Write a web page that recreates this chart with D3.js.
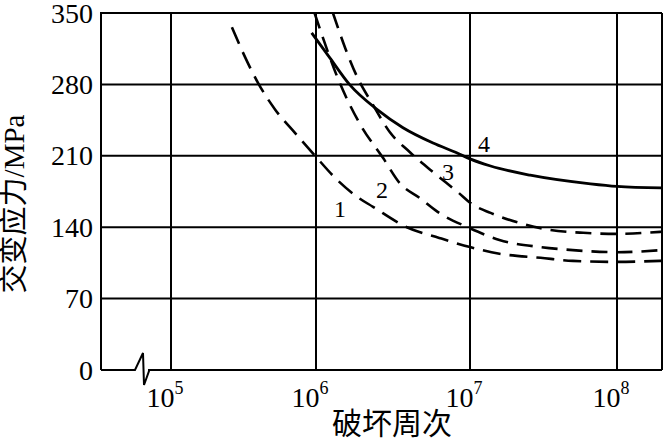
<!DOCTYPE html>
<html>
<head>
<meta charset="utf-8">
<script src="https://cdn.jsdelivr.net/npm/d3@7"></script>
<style>
  body { margin: 0; background: #fff; }
  svg { display: block; }
  text { font-family: "Liberation Serif", "Noto Sans CJK SC", serif; fill: #000; }
</style>
</head>
<body>
<svg id="chart" width="663" height="440"></svg>
<script>
// tick values
var xTicks = [1e5, 1e6, 1e7, 1e8];
var xExp = ["5", "6", "7", "8"];
var yTicks = [0, 70, 140, 210, 280, 350];

// curves: log10(cycles) and stress (MPa)
var c1Log = [5.42, 5.51, 5.6, 5.72, 5.855, 6.0, 6.12, 6.27, 6.37, 6.59, 6.8, 7.0, 7.2, 7.48, 7.7, 8.0, 8.3];
var c1Val = [336, 307, 281.5, 255, 232.5, 209, 189, 169.5, 160, 140, 129.5, 120.5, 114, 110, 107, 106, 107];
var c2Log = [5.99, 6.15, 6.29, 6.435, 6.545, 6.675, 6.79, 7.0, 7.2, 7.48, 7.7, 8.0, 8.3];
var c2Val = [350, 283, 240, 208, 183, 168.5, 155, 139, 127.5, 120.5, 117.5, 115.5, 117.5];
var c3Log = [6.11, 6.19, 6.27, 6.37, 6.48, 6.61, 6.76, 6.92, 7.02, 7.14, 7.34, 7.54, 7.77, 8.0, 8.3];
var c3Val = [350, 315.5, 286.5, 260, 233, 213.5, 194, 174.5, 162, 154, 144, 137.5, 134.5, 133.5, 135.5];
var c4Log = [5.97, 6.09, 6.22, 6.4, 6.565, 6.76, 6.92, 7.0, 7.14, 7.41, 7.82, 8.0, 8.3];
var c4Val = [330.5, 306, 279.5, 255, 237.5, 222.5, 212.5, 207, 200, 191, 182.5, 180, 178.5];

var curves = [
  {name: "1", logs: c1Log, vals: c1Val, dash: "18,9", lx: 340, ly: 217},
  {name: "2", logs: c2Log, vals: c2Val, dash: "16,9", lx: 382, ly: 198},
  {name: "3", logs: c3Log, vals: c3Val, dash: "16,9", lx: 448, ly: 180},
  {name: "4", logs: c4Log, vals: c4Val, dash: null, lx: 484, ly: 152}
];

var pLeft = 101, pRight = 662, pTop = 13, pBottom = 370;

var svg = d3.select("#chart");

var x = d3.scaleLog().domain(xTicks).range([171, 316, 470, 617]);
var y = d3.scaleLinear().domain([0, 350]).range([pBottom, pTop]);

svg.append("defs").append("clipPath").attr("id", "clip")
  .append("rect").attr("x", pLeft).attr("y", pTop)
  .attr("width", pRight - pLeft).attr("height", pBottom - pTop);

var g = svg.append("g");

// grid
g.selectAll(".hgrid").data(yTicks.filter(function(d) { return d > 0; }))
  .enter().append("line")
  .attr("x1", pLeft).attr("x2", pRight)
  .attr("y1", function(d) { return y(d); }).attr("y2", function(d) { return y(d); })
  .attr("stroke", "#000").attr("stroke-width", 2);

g.selectAll(".vgrid").data(xTicks)
  .enter().append("line")
  .attr("x1", function(d) { return x(d); }).attr("x2", function(d) { return x(d); })
  .attr("y1", pTop).attr("y2", pBottom)
  .attr("stroke", "#000").attr("stroke-width", 2);

// frame: left, right
g.append("line").attr("x1", pLeft).attr("x2", pLeft).attr("y1", pTop - 1).attr("y2", pBottom)
  .attr("stroke", "#000").attr("stroke-width", 2);
g.append("line").attr("x1", pRight).attr("x2", pRight).attr("y1", pTop).attr("y2", pBottom)
  .attr("stroke", "#000").attr("stroke-width", 2);

// bottom axis with break
var bx = pLeft + 34;
g.append("path")
  .attr("d", "M" + pLeft + "," + pBottom + "H" + bx +
    "L" + (bx + 8) + "," + (pBottom - 17) +
    "L" + (bx + 9) + "," + (pBottom + 15) +
    "L" + (bx + 14) + "," + (pBottom + 1) +
    "L" + (bx + 14) + "," + pBottom + "H" + pRight)
  .attr("fill", "none").attr("stroke", "#000").attr("stroke-width", 2)
  .attr("stroke-linejoin", "miter");

// y tick labels
svg.selectAll(".ylab").data(yTicks)
  .enter().append("text")
  .attr("x", 93).attr("y", function(d) { return y(d); })
  .attr("dy", "0.34em")
  .attr("text-anchor", "end")
  .style("font-size", "28px")
  .text(function(d) { return d; });

// x tick labels 10^n
var xl = svg.selectAll(".xlab").data(xTicks)
  .enter().append("text")
  .attr("x", function(d) { return x(d) - 6; })
  .attr("y", 407)
  .attr("text-anchor", "middle")
  .style("font-size", "28px");
xl.append("tspan").text("10");
xl.append("tspan").attr("dy", -13).style("font-size", "18px")
  .text(function(d, i) { return xExp[i]; });

// curves
var line = d3.line()
  .x(function(d) { return x(Math.pow(10, d[0])); })
  .y(function(d) { return y(d[1]); })
  .curve(d3.curveMonotoneX);

var cg = svg.append("g").attr("clip-path", "url(#clip)");
curves.forEach(function(c) {
  var pts = c.logs.map(function(l, i) { return [l, c.vals[i]]; });
  cg.append("path").datum(pts)
    .attr("d", line)
    .attr("fill", "none")
    .attr("stroke", "#000")
    .attr("stroke-width", c.dash ? 2.6 : 2.8)
    .attr("stroke-dasharray", c.dash);
});

// curve labels
svg.selectAll(".clab").data(curves)
  .enter().append("text")
  .attr("x", function(d) { return d.lx; })
  .attr("y", function(d) { return d.ly; })
  .attr("text-anchor", "middle")
  .style("font-size", "24px")
  .text(function(d) { return d.name; });

// axis titles
svg.append("text")
  .attr("x", 392).attr("y", 434)
  .attr("text-anchor", "middle")
  .style("font-size", "30px")
  .text("破坏周次");

svg.append("text")
  .attr("transform", "translate(24,204) rotate(-90)")
  .attr("text-anchor", "middle")
  .style("font-size", "29px")
  .text("交变应力/MPa");
</script>
</body>
</html>
